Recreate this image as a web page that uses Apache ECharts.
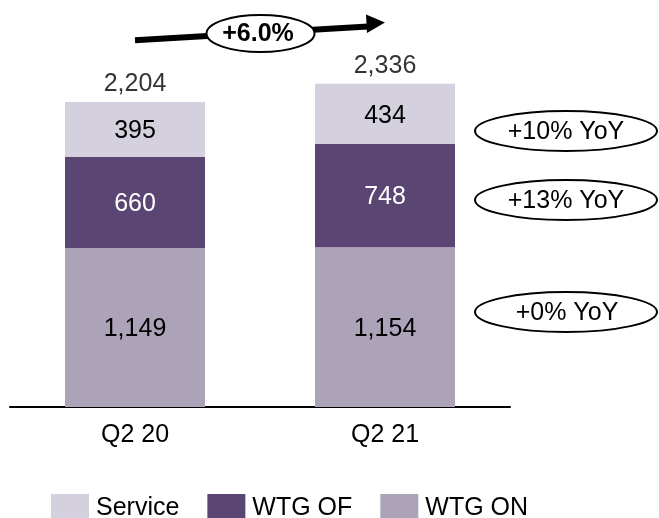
<!DOCTYPE html>
<html>
<head>
    <meta charset="UTF-8">
    <title></title>
    <style type="text/css">
        html, body { margin: 0; padding: 0; background: #fff; }
        #main1 { width: 659px; height: 518px; }
    </style>
</head>
<body>
<div id="main1"></div>
<script type="text/javascript" src="https://cdn.jsdelivr.net/npm/echarts@6/dist/echarts.min.js"></script>
<script type="text/javascript">
    var quarters = ['Q2 20', 'Q2 21'];
    var wtgOn = [1149, 1154];
    var wtgOf = [660, 748];
    var service = [395, 434];
    var totals = [2204, 2336];
    var totalGrowth = '+6.0%';
    var yoyLabels = ['+10% YoY', '+13% YoY', '+0% YoY'];

    var fmt = function (p) {
        return Number(p.value).toLocaleString('en-US');
    };
    var font = 'Liberation Sans, Arial, sans-serif';

    var myChart1 = echarts.init(document.getElementById('main1'));
    var option1 = {
        animation: false,
        textStyle: {fontFamily: font},
        grid: {left: 10, right: 149, top: 61, bottom: 111},
        legend: {
            data: ['Service', 'WTG OF', 'WTG ON'],
            left: 46,
            top: 489,
            itemWidth: 38,
            itemHeight: 28,
            itemGap: 28,
            icon: 'rect',
            textStyle: {fontSize: 25, color: '#000', padding: [0, 0, 0, 2]}
        },
        xAxis: {
            type: 'category',
            data: quarters,
            axisLine: {lineStyle: {color: '#000', width: 2}},
            axisTick: {show: false},
            axisLabel: {fontSize: 25, color: '#000', margin: 16}
        },
        yAxis: {type: 'value', min: 0, max: 2500, show: false, splitLine: {show: false}},
        series: [
            {
                name: 'WTG ON', type: 'bar', stack: 'a', barWidth: 140, data: wtgOn,
                itemStyle: {color: '#aca3b9'},
                label: {show: true, position: 'inside', offset: [0, 2], fontSize: 25, color: '#000', formatter: fmt}
            },
            {
                name: 'WTG OF', type: 'bar', stack: 'a', data: wtgOf,
                itemStyle: {color: '#5b4673'},
                label: {show: true, position: 'inside', offset: [0, 2], fontSize: 25, color: '#fff', formatter: fmt}
            },
            {
                name: 'Service', type: 'bar', stack: 'a', data: service,
                itemStyle: {color: '#d5d0de'},
                label: {show: true, position: 'inside', offset: [0, 2], fontSize: 25, color: '#000', formatter: fmt}
            },
            {
                name: 'Total', type: 'scatter', data: totals, symbolSize: 0,
                label: {show: true, position: 'top', distance: 5, fontSize: 25, color: '#000', formatter: fmt}
            }
        ],
        graphic: [
            {type: 'line', shape: {x1: 135, y1: 40.3, x2: 368, y2: 26.6}, style: {stroke: '#000', lineWidth: 6}},
            {type: 'polygon', shape: {points: [[366, 14.5], [385, 22.5], [367, 33]]}, style: {fill: '#000'}},
            {type: 'ellipse', shape: {cx: 260.5, cy: 33.5, rx: 54, ry: 18.5}, style: {fill: '#fff', stroke: '#000', lineWidth: 2}},
            {type: 'text', x: 258, y: 34, style: {text: totalGrowth, font: 'bold 25px ' + font, fill: '#000', align: 'center', verticalAlign: 'middle'}},
            {type: 'ellipse', shape: {cx: 566, cy: 131, rx: 91, ry: 20}, style: {fill: '#fff', stroke: '#000', lineWidth: 2}},
            {type: 'text', x: 566, y: 132, style: {text: yoyLabels[0], font: '25px ' + font, fill: '#000', align: 'center', verticalAlign: 'middle'}},
            {type: 'ellipse', shape: {cx: 566, cy: 200, rx: 91, ry: 20}, style: {fill: '#fff', stroke: '#000', lineWidth: 2}},
            {type: 'text', x: 566, y: 201, style: {text: yoyLabels[1], font: '25px ' + font, fill: '#000', align: 'center', verticalAlign: 'middle'}},
            {type: 'ellipse', shape: {cx: 566, cy: 312, rx: 91, ry: 20}, style: {fill: '#fff', stroke: '#000', lineWidth: 2}},
            {type: 'text', x: 567, y: 313, style: {text: yoyLabels[2], font: '25px ' + font, fill: '#000', align: 'center', verticalAlign: 'middle'}}
        ]
    };
    myChart1.setOption(option1);
</script>
</body>
</html>
